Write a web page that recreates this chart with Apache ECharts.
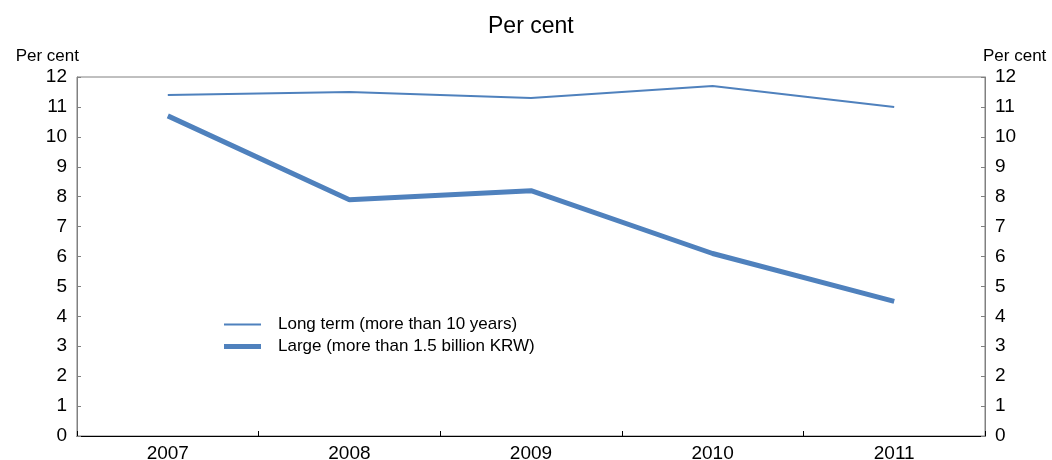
<!DOCTYPE html>
<html>
<head>
<meta charset="utf-8">
<script src="https://cdn.jsdelivr.net/npm/echarts@6/dist/echarts.min.js"></script>
<style>
  html, body { margin: 0; padding: 0; background: #fff; }
  #chart { width: 1052px; height: 460px; }
</style>
</head>
<body>
<div id="chart"></div>
<script>
// Interest rates by loan type, per cent
const years = ['2007', '2008', '2009', '2010', '2011'];
const longTerm = [11.4, 11.5, 11.3, 11.7, 11.0];
const large = [10.7, 7.9, 8.2, 6.1, 4.5];
const seriesNames = ['Long term (more than 10 years)', 'Large (more than 1.5 billion KRW)'];
const unitLabel = 'Per cent';

const FONT = 'Liberation Sans, Arial, sans-serif';
const LINE_COLOR = '#4F81BD';

const chart = echarts.init(document.getElementById('chart'), null, { renderer: 'canvas' });

function valueAxis(position) {
  return {
    type: 'value',
    position: position,
    min: 0,
    max: 12,
    interval: 1,
    name: unitLabel,
    nameLocation: 'end',
    nameGap: 12,
    nameTextStyle: {
      fontFamily: FONT, fontSize: 17, color: '#000',
      align: position === 'left' ? 'right' : 'left',
      padding: position === 'left' ? [0, -2, 0, 0] : [0, 0, 0, -2]
    },
    axisLine: { show: true, lineStyle: { color: '#808080', width: 1 } },
    axisTick: { show: true, inside: true, length: 4, lineStyle: { color: '#808080' } },
    axisLabel: { fontFamily: FONT, fontSize: 19, color: '#000', margin: 10 },
    splitLine: { show: false }
  };
}

function legendFor(name, top, thickness) {
  return {
    data: [name],
    left: 224, top: top,
    padding: 0,
    orient: 'vertical',
    icon: 'rect',
    itemWidth: 37, itemHeight: thickness,
    textStyle: { fontFamily: FONT, fontSize: 17, color: '#000', padding: [0, 0, 0, 12] }
  };
}

chart.setOption({
  animation: false,
  backgroundColor: '#fff',
  title: {
    text: unitLabel,
    left: 483,
    top: 10,
    textStyle: { fontFamily: FONT, fontSize: 23, fontWeight: 'normal', color: '#000' }
  },
  grid: {
    left: 77, right: 67, top: 77, bottom: 24,
    outerBoundsMode: 'none',
    containLabel: false,
    show: true, borderColor: '#808080', borderWidth: 1
  },
  legend: [
    legendFor(seriesNames[0], 316, 2),
    legendFor(seriesNames[1], 338, 5)
  ],
  xAxis: {
    type: 'category',
    data: years,
    boundaryGap: true,
    axisLine: { show: true, lineStyle: { color: '#000', width: 1 } },
    axisTick: { show: true, inside: true, length: 5, alignWithLabel: false, lineStyle: { color: '#000' } },
    axisLabel: { fontFamily: FONT, fontSize: 19, color: '#000', margin: 8 },
    splitLine: { show: false }
  },
  yAxis: [valueAxis('left'), valueAxis('right')],
  series: [
    {
      name: seriesNames[0],
      type: 'line',
      data: longTerm,
      yAxisIndex: 0,
      symbol: 'none',
      lineStyle: { color: LINE_COLOR, width: 2 },
      itemStyle: { color: LINE_COLOR }
    },
    {
      name: seriesNames[1],
      type: 'line',
      data: large,
      yAxisIndex: 0,
      symbol: 'none',
      lineStyle: { color: LINE_COLOR, width: 5 },
      itemStyle: { color: LINE_COLOR }
    }
  ]
});
</script>
</body>
</html>
